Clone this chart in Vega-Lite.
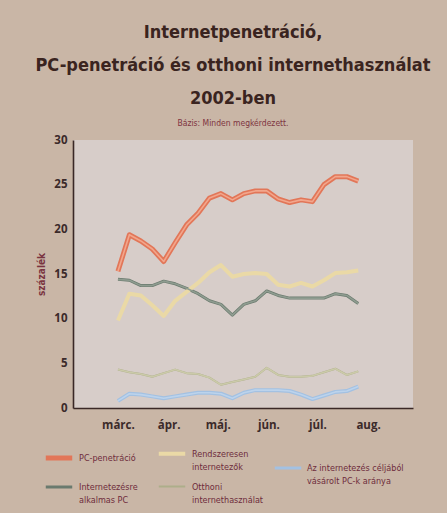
{
  "$schema": "https://vega.github.io/schema/vega-lite/v6.json",
  "width": 340,
  "height": 268,
  "autosize": {"type": "none"},
  "padding": {"left": 73, "top": 140, "right": 34, "bottom": 105},
  "background": "#c9b6a6",
  "config": {
    "view": {"fill": "#d7cdc9", "stroke": null},
    "axis": {
      "domainColor": "#3a2826",
      "domainWidth": 1.6,
      "ticks": false,
      "grid": false,
      "labelFont": "Open Sans",
      "labelFontWeight": "bold",
      "labelColor": "#3b2a2a",
      "labelFontSize": 11.5
    },
    "legend": {
      "labelFont": "DejaVu Sans Condensed",
      "labelFontSize": 9,
      "labelColor": "#6e2c3c",
      "symbolType": "stroke",
      "symbolStrokeWidth": 3,
      "symbolSize": 700,
      "labelLimit": 200
    }
  },
  "title": {
    "text": ["Internetpenetráció,", "PC-penetráció és otthoni internethasználat", "2002-ben"],
    "subtitle": "Bázis: Minden megkérdezett.",
    "font": "DejaVu Sans Condensed",
    "fontWeight": "bold",
    "fontSize": 18,
    "lineHeight": 33,
    "color": "#3a2420",
    "subtitleFont": "DejaVu Sans Condensed",
    "subtitleFontSize": 8.5,
    "subtitleColor": "#7e3440",
    "subtitlePadding": 11,
    "anchor": "middle",
    "dx": -10,
    "offset": 7
  },
  "datasets": {
    "adatok": [
      {"nap": 0, "sorozat": "PC-penetráció", "ertek": 15.3},
      {"nap": 7, "sorozat": "PC-penetráció", "ertek": 19.4},
      {"nap": 14, "sorozat": "PC-penetráció", "ertek": 18.7},
      {"nap": 21, "sorozat": "PC-penetráció", "ertek": 17.8},
      {"nap": 28, "sorozat": "PC-penetráció", "ertek": 16.4},
      {"nap": 35, "sorozat": "PC-penetráció", "ertek": 18.5},
      {"nap": 42, "sorozat": "PC-penetráció", "ertek": 20.5},
      {"nap": 49, "sorozat": "PC-penetráció", "ertek": 21.8},
      {"nap": 56, "sorozat": "PC-penetráció", "ertek": 23.5},
      {"nap": 63, "sorozat": "PC-penetráció", "ertek": 24.0},
      {"nap": 70, "sorozat": "PC-penetráció", "ertek": 23.3},
      {"nap": 77, "sorozat": "PC-penetráció", "ertek": 24.0},
      {"nap": 84, "sorozat": "PC-penetráció", "ertek": 24.3},
      {"nap": 91, "sorozat": "PC-penetráció", "ertek": 24.3},
      {"nap": 98, "sorozat": "PC-penetráció", "ertek": 23.4},
      {"nap": 105, "sorozat": "PC-penetráció", "ertek": 23.0},
      {"nap": 112, "sorozat": "PC-penetráció", "ertek": 23.3},
      {"nap": 119, "sorozat": "PC-penetráció", "ertek": 23.1},
      {"nap": 126, "sorozat": "PC-penetráció", "ertek": 25.0},
      {"nap": 133, "sorozat": "PC-penetráció", "ertek": 25.9},
      {"nap": 140, "sorozat": "PC-penetráció", "ertek": 25.9},
      {"nap": 147, "sorozat": "PC-penetráció", "ertek": 25.4},

      {"nap": 0, "sorozat": "Internetezésre alkalmas PC", "ertek": 14.4},
      {"nap": 7, "sorozat": "Internetezésre alkalmas PC", "ertek": 14.3},
      {"nap": 14, "sorozat": "Internetezésre alkalmas PC", "ertek": 13.7},
      {"nap": 21, "sorozat": "Internetezésre alkalmas PC", "ertek": 13.7},
      {"nap": 28, "sorozat": "Internetezésre alkalmas PC", "ertek": 14.2},
      {"nap": 35, "sorozat": "Internetezésre alkalmas PC", "ertek": 13.9},
      {"nap": 42, "sorozat": "Internetezésre alkalmas PC", "ertek": 13.4},
      {"nap": 49, "sorozat": "Internetezésre alkalmas PC", "ertek": 12.8},
      {"nap": 56, "sorozat": "Internetezésre alkalmas PC", "ertek": 12.0},
      {"nap": 63, "sorozat": "Internetezésre alkalmas PC", "ertek": 11.6},
      {"nap": 70, "sorozat": "Internetezésre alkalmas PC", "ertek": 10.4},
      {"nap": 77, "sorozat": "Internetezésre alkalmas PC", "ertek": 11.6},
      {"nap": 84, "sorozat": "Internetezésre alkalmas PC", "ertek": 12.0},
      {"nap": 91, "sorozat": "Internetezésre alkalmas PC", "ertek": 13.1},
      {"nap": 98, "sorozat": "Internetezésre alkalmas PC", "ertek": 12.6},
      {"nap": 105, "sorozat": "Internetezésre alkalmas PC", "ertek": 12.3},
      {"nap": 112, "sorozat": "Internetezésre alkalmas PC", "ertek": 12.3},
      {"nap": 119, "sorozat": "Internetezésre alkalmas PC", "ertek": 12.3},
      {"nap": 126, "sorozat": "Internetezésre alkalmas PC", "ertek": 12.3},
      {"nap": 133, "sorozat": "Internetezésre alkalmas PC", "ertek": 12.8},
      {"nap": 140, "sorozat": "Internetezésre alkalmas PC", "ertek": 12.6},
      {"nap": 147, "sorozat": "Internetezésre alkalmas PC", "ertek": 11.7},

      {"nap": 0, "sorozat": "Rendszeresen internetezők", "ertek": 9.8},
      {"nap": 7, "sorozat": "Rendszeresen internetezők", "ertek": 12.8},
      {"nap": 14, "sorozat": "Rendszeresen internetezők", "ertek": 12.6},
      {"nap": 21, "sorozat": "Rendszeresen internetezők", "ertek": 11.5},
      {"nap": 28, "sorozat": "Rendszeresen internetezők", "ertek": 10.3},
      {"nap": 35, "sorozat": "Rendszeresen internetezők", "ertek": 12.0},
      {"nap": 42, "sorozat": "Rendszeresen internetezők", "ertek": 13.0},
      {"nap": 49, "sorozat": "Rendszeresen internetezők", "ertek": 14.0},
      {"nap": 56, "sorozat": "Rendszeresen internetezők", "ertek": 15.2},
      {"nap": 63, "sorozat": "Rendszeresen internetezők", "ertek": 16.0},
      {"nap": 70, "sorozat": "Rendszeresen internetezők", "ertek": 14.7},
      {"nap": 77, "sorozat": "Rendszeresen internetezők", "ertek": 15.0},
      {"nap": 84, "sorozat": "Rendszeresen internetezők", "ertek": 15.1},
      {"nap": 91, "sorozat": "Rendszeresen internetezők", "ertek": 15.0},
      {"nap": 98, "sorozat": "Rendszeresen internetezők", "ertek": 13.8},
      {"nap": 105, "sorozat": "Rendszeresen internetezők", "ertek": 13.6},
      {"nap": 112, "sorozat": "Rendszeresen internetezők", "ertek": 14.0},
      {"nap": 119, "sorozat": "Rendszeresen internetezők", "ertek": 13.6},
      {"nap": 126, "sorozat": "Rendszeresen internetezők", "ertek": 14.3},
      {"nap": 133, "sorozat": "Rendszeresen internetezők", "ertek": 15.1},
      {"nap": 140, "sorozat": "Rendszeresen internetezők", "ertek": 15.2},
      {"nap": 147, "sorozat": "Rendszeresen internetezők", "ertek": 15.4},

      {"nap": 0, "sorozat": "Otthoni internethasználat", "ertek": 4.3},
      {"nap": 7, "sorozat": "Otthoni internethasználat", "ertek": 4.0},
      {"nap": 14, "sorozat": "Otthoni internethasználat", "ertek": 3.8},
      {"nap": 21, "sorozat": "Otthoni internethasználat", "ertek": 3.5},
      {"nap": 28, "sorozat": "Otthoni internethasználat", "ertek": 3.9},
      {"nap": 35, "sorozat": "Otthoni internethasználat", "ertek": 4.3},
      {"nap": 42, "sorozat": "Otthoni internethasználat", "ertek": 3.9},
      {"nap": 49, "sorozat": "Otthoni internethasználat", "ertek": 3.8},
      {"nap": 56, "sorozat": "Otthoni internethasználat", "ertek": 3.4},
      {"nap": 63, "sorozat": "Otthoni internethasználat", "ertek": 2.6},
      {"nap": 70, "sorozat": "Otthoni internethasználat", "ertek": 2.9},
      {"nap": 77, "sorozat": "Otthoni internethasználat", "ertek": 3.2},
      {"nap": 84, "sorozat": "Otthoni internethasználat", "ertek": 3.5},
      {"nap": 91, "sorozat": "Otthoni internethasználat", "ertek": 4.5},
      {"nap": 98, "sorozat": "Otthoni internethasználat", "ertek": 3.7},
      {"nap": 105, "sorozat": "Otthoni internethasználat", "ertek": 3.5},
      {"nap": 112, "sorozat": "Otthoni internethasználat", "ertek": 3.5},
      {"nap": 119, "sorozat": "Otthoni internethasználat", "ertek": 3.6},
      {"nap": 126, "sorozat": "Otthoni internethasználat", "ertek": 4.0},
      {"nap": 133, "sorozat": "Otthoni internethasználat", "ertek": 4.4},
      {"nap": 140, "sorozat": "Otthoni internethasználat", "ertek": 3.7},
      {"nap": 147, "sorozat": "Otthoni internethasználat", "ertek": 4.1},

      {"nap": 0, "sorozat": "Az internetezés céljából vásárolt PC-k aránya", "ertek": 0.8},
      {"nap": 7, "sorozat": "Az internetezés céljából vásárolt PC-k aránya", "ertek": 1.6},
      {"nap": 14, "sorozat": "Az internetezés céljából vásárolt PC-k aránya", "ertek": 1.5},
      {"nap": 21, "sorozat": "Az internetezés céljából vásárolt PC-k aránya", "ertek": 1.3},
      {"nap": 28, "sorozat": "Az internetezés céljából vásárolt PC-k aránya", "ertek": 1.1},
      {"nap": 35, "sorozat": "Az internetezés céljából vásárolt PC-k aránya", "ertek": 1.3},
      {"nap": 42, "sorozat": "Az internetezés céljából vásárolt PC-k aránya", "ertek": 1.5},
      {"nap": 49, "sorozat": "Az internetezés céljából vásárolt PC-k aránya", "ertek": 1.7},
      {"nap": 56, "sorozat": "Az internetezés céljából vásárolt PC-k aránya", "ertek": 1.7},
      {"nap": 63, "sorozat": "Az internetezés céljából vásárolt PC-k aránya", "ertek": 1.6},
      {"nap": 70, "sorozat": "Az internetezés céljából vásárolt PC-k aránya", "ertek": 1.1},
      {"nap": 77, "sorozat": "Az internetezés céljából vásárolt PC-k aránya", "ertek": 1.7},
      {"nap": 84, "sorozat": "Az internetezés céljából vásárolt PC-k aránya", "ertek": 2.0},
      {"nap": 91, "sorozat": "Az internetezés céljából vásárolt PC-k aránya", "ertek": 2.0},
      {"nap": 98, "sorozat": "Az internetezés céljából vásárolt PC-k aránya", "ertek": 2.0},
      {"nap": 105, "sorozat": "Az internetezés céljából vásárolt PC-k aránya", "ertek": 1.9},
      {"nap": 112, "sorozat": "Az internetezés céljából vásárolt PC-k aránya", "ertek": 1.5},
      {"nap": 119, "sorozat": "Az internetezés céljából vásárolt PC-k aránya", "ertek": 1.0},
      {"nap": 126, "sorozat": "Az internetezés céljából vásárolt PC-k aránya", "ertek": 1.4},
      {"nap": 133, "sorozat": "Az internetezés céljából vásárolt PC-k aránya", "ertek": 1.8},
      {"nap": 140, "sorozat": "Az internetezés céljából vásárolt PC-k aránya", "ertek": 1.9},
      {"nap": 147, "sorozat": "Az internetezés céljából vásárolt PC-k aránya", "ertek": 2.4}
    ]
  },
  "data": {"name": "adatok"},
  "encoding": {
    "x": {
      "field": "nap",
      "type": "quantitative",
      "scale": {"domain": [-27.5, 180.5], "nice": false, "zero": false},
      "axis": {
        "title": null,
        "values": [0, 31, 61, 92, 122, 153],
        "labelPadding": 11,
        "labelExpr": "datum.value == 0 ? 'márc.' : datum.value == 31 ? 'ápr.' : datum.value == 61 ? 'máj.' : datum.value == 92 ? 'jún.' : datum.value == 122 ? 'júl.' : 'aug.'"
      }
    },
    "y": {
      "field": "ertek",
      "type": "quantitative",
      "scale": {"domain": [0, 30], "nice": false},
      "axis": {
        "title": "százalék",
        "titleFont": "DejaVu Sans Condensed",
        "titleFontSize": 10,
        "titleFontWeight": "bold",
        "titleColor": "#7a3440",
        "titlePadding": 7,
        "values": [0, 5, 10, 15, 20, 25, 30],
        "labelPadding": 6
      }
    }
  },
  "layer": [
    {
      "transform": [{"filter": "datum.sorozat != 'Az internetezés céljából vásárolt PC-k aránya'"}],
      "mark": {"type": "line", "strokeJoin": "round"},
      "encoding": {
        "color": {
          "field": "sorozat",
          "type": "nominal",
          "scale": {
            "domain": ["PC-penetráció", "Rendszeresen internetezők", "Internetezésre alkalmas PC", "Otthoni internethasználat"],
            "range": ["#e27658", "#ead9a6", "#6a7a6e", "#adae8a"]
          },
          "legend": {
            "title": null,
            "orient": "none",
            "legendX": -30,
            "legendY": 298,
            "columns": 2,
            "direction": "horizontal",
            "columnPadding": 12,
            "rowPadding": 0,
            "labelExpr": "datum.label == 'Rendszeresen internetezők' ? ['Rendszeresen', 'internetezők'] : datum.label == 'Internetezésre alkalmas PC' ? ['Internetezésre', 'alkalmas PC'] : datum.label == 'Otthoni internethasználat' ? ['Otthoni', 'internethasználat'] : datum.label",
            "encode": {
              "symbols": {"update": {"strokeWidth": {"value": 3}}},
              "labels": {"update": {"lineHeight": {"value": 13}}}
            }
          }
        },
        "strokeWidth": {
          "field": "sorozat",
          "type": "nominal",
          "scale": {
            "domain": ["PC-penetráció", "Rendszeresen internetezők", "Internetezésre alkalmas PC", "Otthoni internethasználat"],
            "range": [5, 2, 5, 4]
          },
          "legend": null
        }
      }
    },
    {
      "transform": [{"filter": "datum.sorozat == 'Az internetezés céljából vásárolt PC-k aránya'"}],
      "mark": {"type": "line", "strokeJoin": "round", "strokeWidth": 4},
      "encoding": {
        "color": {
          "field": "sorozat",
          "type": "nominal",
          "scale": {"range": ["#a3c1e2"]},
          "legend": {
            "title": null,
            "orient": "none",
            "legendX": 200,
            "legendY": 313,
            "labelExpr": "['Az internetezés céljából', 'vásárolt PC-k aránya']",
            "encode": {
              "symbols": {"update": {"strokeWidth": {"value": 3}}},
              "labels": {"update": {"lineHeight": {"value": 13}}}
            }
          }
        }
      }
    },
    {
      "transform": [{"filter": "datum.sorozat != 'Rendszeresen internetezők'"}],
      "mark": {"type": "line", "strokeJoin": "round", "strokeWidth": 1.6},
      "encoding": {
        "color": {
          "field": "sorozat",
          "type": "nominal",
          "scale": {
            "domain": ["PC-penetráció", "Internetezésre alkalmas PC", "Otthoni internethasználat", "Az internetezés céljából vásárolt PC-k aránya"],
            "range": ["#f2a68c", "#8f9c90", "#cbcaa9", "#bcd3ec"]
          },
          "legend": null
        }
      }
    }
  ],
  "resolve": {"scale": {"color": "independent", "strokeWidth": "independent"}}
}
